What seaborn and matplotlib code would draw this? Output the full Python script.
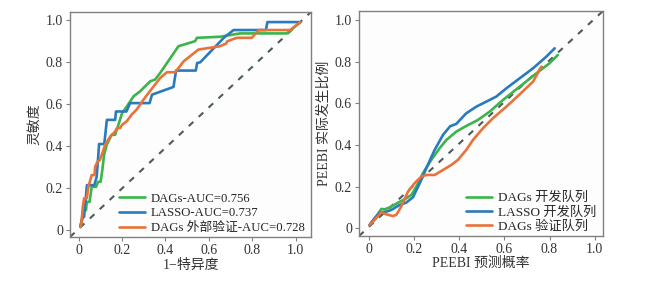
import numpy as np
import pandas as pd
import seaborn as sns
import matplotlib
matplotlib.use("Agg")
import matplotlib.pyplot as plt
from matplotlib.font_manager import FontProperties

sns.set_style("ticks")
FAM = ['Liberation Serif', 'Noto Sans CJK SC', 'DejaVu Sans']
plt.rcParams['font.family'] = FAM
plt.rcParams['axes.unicode_minus'] = False

# ---------------- ROC data ----------------
roc_labels = ["DAGs-AUC=0.756", "LASSO-AUC=0.737", "DAGs 外部验证-AUC=0.728"]
dags_fpr = [0.009, 0.021, 0.034, 0.037, 0.05, 0.06, 0.08, 0.09, 0.101, 0.109, 0.117, 0.129, 0.152,
            0.168, 0.183, 0.2, 0.222, 0.253, 0.283, 0.33, 0.352, 0.376, 0.46, 0.537, 0.545, 0.652,
            0.744, 0.96, 1.022]
dags_tpr = [0.016, 0.096, 0.096, 0.135, 0.135, 0.207, 0.207, 0.231, 0.231, 0.287, 0.359, 0.407, 0.455,
            0.455, 0.502, 0.558, 0.59, 0.638, 0.662, 0.71, 0.718, 0.75, 0.877, 0.901, 0.917, 0.922,
            0.938, 0.938, 0.992]
lasso_fpr = [0.007, 0.02, 0.025, 0.038, 0.061, 0.072, 0.083, 0.09, 0.094, 0.118, 0.13, 0.168, 0.172,
             0.22, 0.237, 0.327, 0.338, 0.437, 0.449, 0.54, 0.546, 0.56, 0.669, 0.714, 0.723, 0.863,
             0.87, 1.022]
lasso_tpr = [0.02, 0.064, 0.064, 0.215, 0.215, 0.215, 0.255, 0.35, 0.411, 0.411, 0.526, 0.526, 0.566,
             0.566, 0.606, 0.606, 0.646, 0.683, 0.761, 0.761, 0.797, 0.8, 0.917, 0.954, 0.954, 0.954,
             0.992, 0.992]
ext_fpr = [0.009, 0.014, 0.019, 0.025, 0.037, 0.045, 0.06, 0.073, 0.076, 0.087, 0.098, 0.109, 0.122,
           0.145, 0.168, 0.176, 0.191, 0.2, 0.222, 0.245, 0.268, 0.3, 0.322, 0.376, 0.407, 0.445,
           0.484, 0.552, 0.652, 0.68, 0.684, 0.729, 0.798, 0.83, 0.975, 1.022]
ext_tpr = [0.016, 0.048, 0.111, 0.152, 0.152, 0.207, 0.263, 0.263, 0.303, 0.327, 0.335, 0.367, 0.407,
           0.446, 0.47, 0.487, 0.487, 0.502, 0.52, 0.552, 0.576, 0.624, 0.654, 0.726, 0.753, 0.753,
           0.805, 0.861, 0.877, 0.89, 0.9, 0.917, 0.917, 0.954, 0.954, 0.992]

# ---------------- Calibration data ----------------
cal_labels = ["DAGs 开发队列", "LASSO 开发队列", "DAGs 验证队列"]
cal_dags_x = [0.003, 0.032, 0.055, 0.069, 0.092, 0.129, 0.158, 0.188, 0.21, 0.239, 0.276, 0.313,
              0.343, 0.387, 0.431, 0.483, 0.535, 0.594, 0.668, 0.742, 0.8, 0.837]
cal_dags_y = [0.016, 0.056, 0.093, 0.091, 0.1, 0.123, 0.139, 0.16, 0.2, 0.264, 0.328, 0.384,
              0.424, 0.464, 0.491, 0.52, 0.56, 0.616, 0.68, 0.744, 0.792, 0.832]
cal_lasso_x = [0.003, 0.025, 0.047, 0.077, 0.099, 0.136, 0.165, 0.195, 0.225, 0.254, 0.291, 0.328,
               0.36, 0.387, 0.431, 0.476, 0.52, 0.564, 0.609, 0.668, 0.727, 0.786, 0.823]
cal_lasso_y = [0.016, 0.048, 0.075, 0.08, 0.088, 0.112, 0.123, 0.149, 0.216, 0.288, 0.376, 0.448,
               0.49, 0.501, 0.552, 0.584, 0.608, 0.632, 0.672, 0.72, 0.768, 0.824, 0.864]
cal_val_x = [0.003, 0.025, 0.055, 0.077, 0.106, 0.121, 0.143, 0.173, 0.202, 0.232, 0.254, 0.291,
             0.328, 0.365, 0.394, 0.431, 0.461, 0.505, 0.549, 0.609, 0.668, 0.727, 0.764]
cal_val_y = [0.016, 0.04, 0.077, 0.067, 0.059, 0.064, 0.104, 0.176, 0.216, 0.248, 0.256, 0.256,
             0.28, 0.304, 0.328, 0.376, 0.424, 0.48, 0.528, 0.584, 0.643, 0.704, 0.776]

tick_vals = [0, 0.2, 0.4, 0.6, 0.8, 1.0]
tick_labels = ["0", "0.2", "0.4", "0.6", "0.8", "1.0"]

colors = ['#3bb54a', '#2a7bbd', '#e8733a']


def make_df(xs, ys, labels):
    frames = []
    for x, y, lab in zip(xs, ys, labels):
        frames.append(pd.DataFrame({"x": x, "y": y, "model": lab}))
    return pd.concat(frames, ignore_index=True)


roc_df = make_df([dags_fpr, lasso_fpr, ext_fpr], [dags_tpr, lasso_tpr, ext_tpr], roc_labels)
cal_df = make_df([cal_dags_x, cal_lasso_x, cal_val_x], [cal_dags_y, cal_lasso_y, cal_val_y], cal_labels)

fig = plt.figure(figsize=(6.51, 2.82), dpi=100)
ax1 = fig.add_axes([70 / 651, 45 / 282, 241 / 651, 225 / 282])
ax2 = fig.add_axes([359 / 651, 46 / 282, 244 / 651, 225 / 282])

spine_col = '#808080'
text_col = '#333333'


def style(ax, xlim, ylim, xlabel, ylabel):
    ax.plot([0, 1], [0, 1], transform=ax.transAxes, ls=(0, (3, 3.5)), color='#4f5b5b',
            lw=1.5, zorder=1)
    ax.set_xlim(*xlim)
    ax.set_ylim(*ylim)
    ax.set_xticks(tick_vals)
    ax.set_xticklabels(tick_labels)
    ax.set_yticks(tick_vals)
    ax.set_yticklabels(tick_labels)
    ax.tick_params(direction='out', length=3, width=0.8, color=spine_col, labelsize=10,
                   labelcolor=text_col, pad=2)
    for s in ax.spines.values():
        s.set_visible(True)
        s.set_color(spine_col)
        s.set_linewidth(1.0)
    ax.set_xlabel(xlabel, fontsize=10, color=text_col, labelpad=1)
    ax.set_ylabel(ylabel, fontsize=10, color=text_col, labelpad=3)
    ax.set_facecolor('#fdfdfd')


sns.lineplot(data=roc_df, x="x", y="y", hue="model", palette=colors, sort=False,
             estimator=None, units="model", lw=1.9, ax=ax1, zorder=3)
style(ax1, (-0.04, 1.071), (-0.032, 1.04), "1−特异度", "灵敏度")
h, l = ax1.get_legend_handles_labels()
ax1.legend(h, l, loc='lower right', frameon=False, prop=FontProperties(family=FAM, size=9.2),
           handlelength=2.0, handletextpad=0.45, labelspacing=0.2, borderaxespad=0.1,
           bbox_to_anchor=(1.0, -0.015))

sns.lineplot(data=cal_df, x="x", y="y", hue="model", palette=colors, sort=False,
             estimator=None, units="model", lw=1.9, ax=ax2, zorder=3)
style(ax2, (-0.044, 1.037), (-0.037, 1.043), "PEEBI 预测概率", "PEEBI 实际发生比例")
h, l = ax2.get_legend_handles_labels()
ax2.legend(h, l, loc='lower right', frameon=False, prop=FontProperties(family=FAM, size=9.5),
           handlelength=2.0, handletextpad=0.45, labelspacing=0.15, borderaxespad=0.1,
           bbox_to_anchor=(1.0, -0.015))

fig.savefig("out.png", dpi=100)
